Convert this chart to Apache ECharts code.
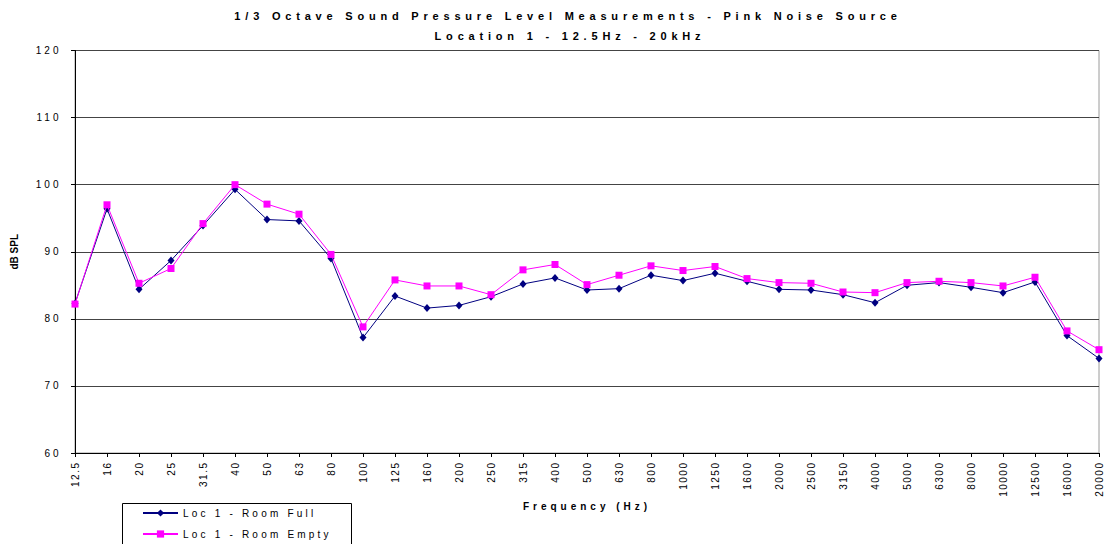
<!DOCTYPE html>
<html>
<head>
<meta charset="utf-8">
<title>1/3 Octave SPL - Location 1</title>
<script src="https://cdn.jsdelivr.net/npm/echarts@6/dist/echarts.min.js"></script>
<style>
  html, body { margin: 0; padding: 0; background: #fff; }
  #chart { width: 1107px; height: 544px; }
  /* letter tracking per text group (each group has its own near-black fill) */
  #chart text[fill="#000001"] { letter-spacing: 4.8px; } /* title lines */
  #chart text[fill="#000002"] { letter-spacing: 3.2px; } /* legend */
  #chart text[fill="#000003"] { letter-spacing: 3px; }   /* dB ticks */
  #chart text[fill="#000004"] { letter-spacing: 1.5px; } /* frequency ticks */
  #chart text[fill="#000005"] { letter-spacing: 4px; }   /* x axis name */
</style>
</head>
<body>
<div id="chart"></div>
<script>
// 1/3-octave band centre frequencies (Hz)
const bands = ['12.5', '16', '20', '25', '31.5', '40', '50', '63', '80', '100',
  '125', '160', '200', '250', '315', '400', '500', '630', '800', '1000',
  '1250', '1600', '2000', '2500', '3150', '4000', '5000', '6300', '8000', '10000',
  '12500', '16000', '20000'];

// Measured sound pressure level, dB SPL
const roomFull = [82.3, 96.4, 84.4, 88.7, 93.9, 99.3, 94.8, 94.6, 89.0, 77.2,
  83.4, 81.6, 82.0, 83.3, 85.2, 86.1, 84.3, 84.5, 86.5, 85.7,
  86.8, 85.6, 84.4, 84.3, 83.6, 82.4, 85.0, 85.4, 84.7, 83.9,
  85.5, 77.5, 74.1];
const roomEmpty = [82.2, 97.0, 85.3, 87.5, 94.2, 100.0, 97.1, 95.6, 89.6, 78.8,
  85.8, 84.9, 84.9, 83.6, 87.3, 88.1, 85.1, 86.5, 87.9, 87.2,
  87.8, 86.0, 85.4, 85.3, 84.0, 83.9, 85.4, 85.6, 85.4, 84.9,
  86.2, 78.2, 75.4];

const seriesNames = ['Loc 1 - Room Full', 'Loc 1 - Room Empty'];
const titleLines = ['1/3 Octave Sound Pressure Level Measurements - Pink Noise Source',
  'Location 1 - 12.5Hz - 20kHz'];
const xName = 'Frequency (Hz)';
const yName = 'dB SPL';

const FONT = "'Liberation Sans', Arial, sans-serif";
const chart = echarts.init(document.getElementById('chart'), null, { renderer: 'svg' });

chart.setOption({
  backgroundColor: '#ffffff',
  animation: false,
  grid: {
    left: 75, right: 8, top: 50.5, bottom: 91,
    show: true, borderColor: '#9a9a9a', borderWidth: 1, backgroundColor: '#ffffff',
    containLabel: false, outerBoundsMode: 'none'
  },
  graphic: [
    {
      type: 'rect', z: 0, silent: true,
      shape: { x: 122.5, y: 503.5, width: 229, height: 50 },
      style: { fill: '#ffffff', stroke: '#000000', lineWidth: 1 }
    },
    {
      type: 'text', x: 568, y: 16, silent: true,
      style: { text: titleLines[0], fill: '#000001', align: 'center', verticalAlign: 'middle',
               font: 'bold 11px ' + FONT }
    },
    {
      type: 'text', x: 570, y: 36.3, silent: true,
      style: { text: titleLines[1], fill: '#000001', align: 'center', verticalAlign: 'middle',
               font: 'bold 11px ' + FONT }
    }
  ],
  legend: {
    orient: 'vertical', left: 142, top: 508, z: 5,
    itemWidth: 35, itemHeight: 9, itemGap: 11, padding: 0,
    textStyle: { color: '#000002', fontSize: 10, fontFamily: FONT },
    data: seriesNames
  },
  xAxis: {
    type: 'category', data: bands, boundaryGap: false,
    name: xName, nameLocation: 'middle', nameGap: 48, nameMoveOverlap: false,
    nameTextStyle: { color: '#000005', fontSize: 10, fontWeight: 'bold', fontFamily: FONT },
    axisLine: { show: true, onZero: false, lineStyle: { color: '#000000', width: 1 } },
    axisTick: { show: true, alignWithLabel: true, inside: false, length: 4, interval: 0,
                lineStyle: { color: '#000000' } },
    axisLabel: { interval: 0, rotate: 90, margin: 8.5, color: '#000004', fontSize: 10, fontFamily: FONT },
    splitLine: { show: false }
  },
  yAxis: {
    type: 'value', min: 60, max: 120, interval: 10,
    name: yName, nameLocation: 'middle', nameGap: 56, nameRotate: 90, nameMoveOverlap: false,
    nameTextStyle: { color: '#000000', fontSize: 10, fontWeight: 'bold', fontFamily: FONT },
    axisLine: { show: true, lineStyle: { color: '#000000', width: 1 } },
    axisTick: { show: true, length: 4, lineStyle: { color: '#000000' } },
    axisLabel: { margin: 13.5, color: '#000003', fontSize: 10, fontFamily: FONT },
    splitLine: { show: true, lineStyle: { color: '#444444', width: 1 } }
  },
  series: [
    {
      name: seriesNames[0], type: 'line', data: roomFull,
      symbol: 'diamond', symbolSize: [7, 8], showAllSymbol: true,
      color: '#000080',
      lineStyle: { color: '#000080', width: 1 },
      itemStyle: { color: '#000080' },
      z: 3
    },
    {
      name: seriesNames[1], type: 'line', data: roomEmpty,
      symbol: 'rect', symbolSize: 7, showAllSymbol: true,
      color: '#ff00ff',
      lineStyle: { color: '#ff00ff', width: 1 },
      itemStyle: { color: '#ff00ff' },
      z: 4
    }
  ]
});
</script>
</body>
</html>
